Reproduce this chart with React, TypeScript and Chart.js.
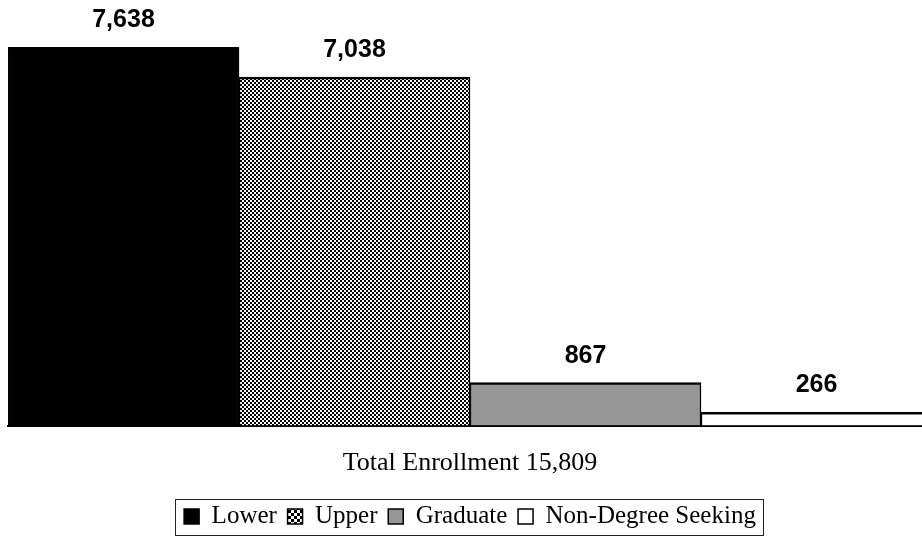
import React, { useEffect, useRef } from "react";
import { Chart, registerables } from "chart.js";

Chart.register(...registerables);

const categories = ["Lower", "Upper", "Graduate", "Non-Degree Seeking"];
const enrollment = [7638, 7038, 867, 266];
const axisTitle = "Total Enrollment 15,809";
const yMin = 0;
const yMax = 8000;

function makeChecker(cell: number): CanvasPattern | string {
  const c = document.createElement("canvas");
  c.width = cell * 2;
  c.height = cell * 2;
  const g = c.getContext("2d");
  if (!g) return "#777";
  g.fillStyle = "#ffffff";
  g.fillRect(0, 0, cell * 2, cell * 2);
  g.fillStyle = "#000000";
  g.fillRect(0, 0, cell, cell);
  g.fillRect(cell, cell, cell, cell);
  const p = g.createPattern(c, "repeat");
  return p || "#777";
}

const valueLabels = {
  id: "valueLabels",
  afterDatasetsDraw(chart: any) {
    const ctx = chart.ctx;
    const meta = chart.getDatasetMeta(0);
    ctx.save();
    ctx.fillStyle = "#000";
    ctx.font = "bold 25px 'Liberation Sans', Arial, sans-serif";
    ctx.textAlign = "center";
    ctx.textBaseline = "alphabetic";
    meta.data.forEach((bar: any, i: number) => {
      const v = chart.data.datasets[0].data[i] as number;
      ctx.fillText(v.toLocaleString("en-US"), bar.x, bar.y - 20);
    });
    ctx.restore();
  },
};

const legendFrame = {
  id: "legendFrame",
  afterDraw(chart: any) {
    const lg = chart.legend;
    if (!lg || !lg.legendHitBoxes || !lg.legendHitBoxes.length) return;
    const hb = lg.legendHitBoxes;
    const first = hb[0];
    const last = hb[hb.length - 1];
    const cy = first.top + first.height / 2;
    const l = first.left - 9;
    const r = last.left + last.width + 7;
    const ctx = chart.ctx;
    ctx.save();
    ctx.strokeStyle = "#222";
    ctx.lineWidth = 1;
    ctx.strokeRect(Math.round(l) + 0.5, Math.round(cy - 18) + 0.5, Math.round(r - l), 36);
    ctx.restore();
  },
};

export default function App() {
  const ref = useRef<HTMLCanvasElement | null>(null);

  useEffect(() => {
    document.body.style.margin = "0";
    const canvas = ref.current;
    if (!canvas) return;
    const checker = makeChecker(2);
    const legendChecker = makeChecker(3);
    const fills: any[] = ["#000000", checker, "#969696", "#ffffff"];
    const legendFills: any[] = ["#000000", legendChecker, "#969696", "#ffffff"];

    const chart = new Chart(canvas, {
      type: "bar",
      data: {
        labels: categories,
        datasets: [
          {
            label: "Enrollment",
            data: enrollment,
            backgroundColor: fills,
            borderColor: "#000000",
            borderWidth: { top: 2.5, left: 1.5, right: 1.5, bottom: 0 },
            borderSkipped: false,
            barPercentage: 1,
            categoryPercentage: 1,
          },
        ],
      },
      options: {
        responsive: false,
        animation: false,
        layout: { padding: { left: 8, right: 0, top: 29.5, bottom: 0 } },
        scales: {
          x: {
            grid: { display: false, drawTicks: false },
            border: { display: true, color: "#000", width: 2 },
            ticks: { display: false },
            title: {
              display: true,
              text: axisTitle,
              color: "#000",
              font: { family: "'Liberation Serif', 'Times New Roman', serif", size: 26 },
              padding: { top: 21.9, bottom: 14.7 },
            },
          },
          y: {
            display: false,
            min: yMin,
            max: yMax,
          },
        },
        plugins: {
          tooltip: { enabled: false },
          legend: {
            display: true,
            position: "bottom",
            align: "center",
            labels: {
              boxWidth: 15,
              boxHeight: 15,
              padding: 10.7,
              color: "#000",
              font: { family: "'Liberation Serif', 'Times New Roman', serif", size: 25 },
              generateLabels: () =>
                categories.map((c, i) => ({
                  text: c,
                  fillStyle: legendFills[i],
                  strokeStyle: "#000",
                  lineWidth: 1.5,
                  hidden: false,
                  index: i,
                  datasetIndex: 0,
                  fontColor: "#000",
                })),
            },
          },
        },
      },
      plugins: [valueLabels, legendFrame],
    });
    return () => chart.destroy();
  }, []);

  return (
    <div style={{ width: 922, height: 539, overflow: "hidden", position: "relative", background: "#fff" }}>
      <canvas ref={ref} width={932} height={539} style={{ display: "block", width: 932, height: 539 }} />
    </div>
  );
}
